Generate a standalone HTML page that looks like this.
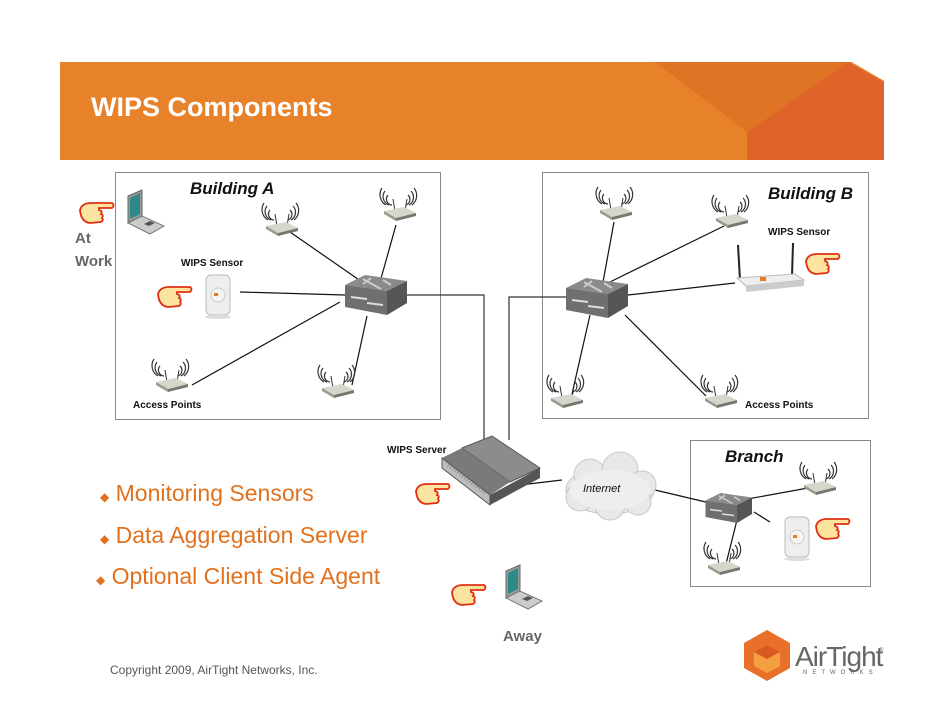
<!DOCTYPE html>
<html><head><meta charset="utf-8"><style>
html,body{margin:0;padding:0;background:#fff;}
svg{display:block;}
text{font-family:"Liberation Sans",sans-serif;}
</style></head><body>
<svg width="942" height="728" viewBox="0 0 942 728" xmlns="http://www.w3.org/2000/svg">
<defs>
<g id="ap">
  <path d="M-6,-8 a6,6 0 0 1 -4,-10 M-9,-8 a9,9 0 0 1 -4,-14 M-12,-8 a12,12 0 0 1 -4,-17" fill="none" stroke="#333" stroke-width="1.2"/>
  <path d="M8,-8 a6,6 0 0 0 2,-10 M11,-8 a9,9 0 0 0 2,-14 M14,-8 a12,12 0 0 0 2,-17" fill="none" stroke="#333" stroke-width="1.2"/>
  <line x1="-5" y1="-14" x2="-3" y2="-2" stroke="#333"/><line x1="9" y1="-14" x2="7" y2="-2" stroke="#333"/>
  <polygon points="-14,-2 6,-6 18,0 -2,5" fill="#d6d6cc"/>
  <polygon points="-14,-2 -2,5 -2,8 -14,1" fill="#9a9a90"/>
  <polygon points="-2,5 18,0 18,3 -2,8" fill="#77776f"/>
</g>
<g id="sw">
  <polygon points="-30,-10 -10,-20 32,-14 12,-4" fill="#8a8a8a"/>
  <polygon points="-30,-10 12,-4 12,20 -30,12" fill="#6f6f6f"/>
  <polygon points="12,-4 32,-14 32,8 12,20" fill="#555"/>
  <path d="M-12,-16 l18,10 M-4,-17 l-8,6 M8,-15 l8,5" stroke="#ccc" stroke-width="2"/>
  <path d="M-24,2 l16,2 M-8,8 l16,2" stroke="#ddd" stroke-width="2"/>
</g>
<g id="hand">
  <path d="M-16,-4 q2,-7 11,-7 l21,0 q3,2 0,5 l-13,0 l0,2 q4,1 2,4 q3,1 1,4 q2,2 -1,4 l-11,1 q-9,-1 -10,-13z" fill="#fbe3a0" stroke="#e03010" stroke-width="1.8"/>
</g>
<g id="laptop">
  <polygon points="0,0 14,-6 14,20 0,27" fill="#999" stroke="#666"/>
  <polygon points="2,2 12,-3 12,18 2,23" fill="#2d8a86"/>
  <polygon points="0,27 14,20 36,30 22,38" fill="#ccc" stroke="#777"/>
  <polygon points="16,28 22,25 27,27 21,30" fill="#555"/>
</g>
<g id="sensor">
  <rect x="-12" y="-20" width="24" height="40" rx="5" fill="#eee" stroke="#bbb"/>
  <circle cx="0" cy="0" r="7" fill="#f4f4f4" stroke="#ccc"/>
  <rect x="-4" y="-2" width="4" height="3" fill="#e87a20"/>
  <ellipse cx="0" cy="22" rx="13" ry="2" fill="#ddd"/>
</g>
</defs>

<!-- header -->
<rect x="60" y="62" width="824" height="98" fill="#E8822A"/>
<polygon points="655,62 848,62 747,132" fill="#E07425"/>
<polygon points="747,132 848,62 884,82 884,160 747,160" fill="#DF6429"/>
<polygon points="848,60 886,60 886,82" fill="#fff"/>
<text x="91" y="116" font-size="27" font-weight="bold" fill="#fff">WIPS Components</text>

<!-- boxes -->
<rect x="115.5" y="172.5" width="325" height="247" fill="none" stroke="#888"/>
<rect x="542.5" y="172.5" width="326" height="246" fill="none" stroke="#888"/>
<rect x="690.5" y="440.5" width="180" height="146" fill="none" stroke="#888"/>

<text x="190" y="194" font-size="17" font-weight="bold" font-style="italic" fill="#111">Building A</text>
<text x="768" y="199" font-size="17" font-weight="bold" font-style="italic" fill="#111">Building B</text>
<text x="725" y="462" font-size="17" font-weight="bold" font-style="italic" fill="#111">Branch</text>

<!-- lines -->
<g stroke="#111" stroke-width="1.2" fill="none">
<line x1="290" y1="232" x2="365" y2="284"/>
<line x1="396" y1="225" x2="380" y2="282"/>
<line x1="240" y1="292" x2="345" y2="295"/>
<line x1="192" y1="385" x2="340" y2="302"/>
<line x1="352" y1="385" x2="367" y2="316"/>
<line x1="614" y1="222" x2="603" y2="282"/>
<line x1="724" y1="226" x2="610" y2="282"/>
<line x1="735" y1="283" x2="628" y2="295"/>
<line x1="590" y1="315" x2="572" y2="394"/>
<line x1="625" y1="315" x2="706" y2="396"/>
<line x1="655" y1="490" x2="710" y2="503"/>
<line x1="742" y1="500" x2="808" y2="488"/>
<line x1="737" y1="520" x2="725" y2="568"/>
<line x1="754" y1="512" x2="770" y2="522"/>
<line x1="520" y1="485" x2="562" y2="480"/>
</g>
<g stroke="#333" stroke-width="1.2" fill="none">
<polyline points="406,295 484,295 484,440"/>
<polyline points="566,297 509,297 509,440"/>
</g>

<!-- switches -->
<use href="#sw" x="375" y="295"/>
<use href="#sw" x="596" y="298"/>
<use href="#sw" x="728" y="508" transform="translate(728,508) scale(0.75) translate(-728,-508)"/>

<!-- APs -->
<use href="#ap" x="280" y="228"/>
<use href="#ap" x="398" y="213"/>
<use href="#ap" x="170" y="384"/>
<use href="#ap" x="336" y="390"/>
<use href="#ap" x="614" y="212"/>
<use href="#ap" x="730" y="220"/>
<use href="#ap" x="565" y="400"/>
<use href="#ap" x="719" y="400"/>
<use href="#ap" x="818" y="487"/>
<use href="#ap" x="722" y="567"/>

<!-- sensors -->
<use href="#sensor" x="218" y="295"/>
<use href="#sensor" x="797" y="537"/>
<g>
  <line x1="738" y1="245" x2="740" y2="280" stroke="#222" stroke-width="2"/>
  <line x1="793" y1="243" x2="792" y2="276" stroke="#222" stroke-width="2"/>
  <polygon points="737,278 795,274 804,280 746,286" fill="#eee" stroke="#bbb"/>
  <polygon points="746,286 804,280 804,286 746,292" fill="#ccc"/>
  <rect x="760" y="277" width="6" height="4" fill="#e87a20"/>
</g>
<text x="181" y="266" font-size="10" font-weight="bold" fill="#111">WIPS Sensor</text>
<text x="768" y="235" font-size="10" font-weight="bold" fill="#111">WIPS Sensor</text>
<text x="133" y="408" font-size="10" font-weight="bold" fill="#111">Access Points</text>
<text x="745" y="408" font-size="10" font-weight="bold" fill="#111">Access Points</text>
<text x="387" y="453" font-size="10" font-weight="bold" fill="#111">WIPS Server</text>

<!-- server -->
<polygon points="462,448 492,436 540,468 510,482" fill="#8c8c8c" stroke="#555"/>
<polygon points="442,458 462,448 510,482 490,495" fill="#7a7a7a"/>
<polygon points="442,458 490,495 490,505 442,468" fill="#bcbcbc" stroke="#555"/>
<polygon points="490,495 540,468 540,478 490,505" fill="#555"/>
<path d="M448,465 l38,29" stroke="#888" stroke-width="3" stroke-dasharray="1,2"/>

<!-- cloud -->
<g fill="#e8e8e8" stroke="#c8c8c8">
<ellipse cx="610" cy="490" rx="44" ry="24"/>
<circle cx="590" cy="475" r="16"/><circle cx="620" cy="470" r="18"/><circle cx="642" cy="485" r="14"/><circle cx="580" cy="497" r="14"/><circle cx="610" cy="505" r="15"/><circle cx="638" cy="502" r="13"/>
</g>
<ellipse cx="610" cy="490" rx="40" ry="20" fill="#eeeeee"/>
<text x="583" y="492" font-size="11" font-style="italic" fill="#111">Internet</text>

<!-- laptops -->
<use href="#laptop" x="128" y="196"/>
<use href="#laptop" x="506" y="571"/>

<!-- hands -->
<use href="#hand" x="96" y="214"/>
<use href="#hand" x="174" y="298"/>
<use href="#hand" x="822" y="265"/>
<use href="#hand" x="432" y="495"/>
<use href="#hand" x="832" y="530"/>
<use href="#hand" x="468" y="596"/>

<text x="75" y="243" font-size="15" font-weight="bold" fill="#666">At</text>
<text x="75" y="266" font-size="15" font-weight="bold" fill="#666">Work</text>
<text x="503" y="641" font-size="15" font-weight="bold" fill="#666">Away</text>

<!-- bullets -->
<g fill="#E2711D" font-size="23">
<text x="100" y="501"><tspan font-size="12">◆</tspan> Monitoring Sensors</text>
<text x="100" y="543"><tspan font-size="12">◆</tspan> Data Aggregation Server</text>
<text x="96" y="584"><tspan font-size="12">◆</tspan> Optional Client Side Agent</text>
</g>
<text x="110" y="674" font-size="12" fill="#555">Copyright 2009, AirTight Networks, Inc.</text>

<!-- logo -->
<polygon points="767,630 790,643 790,668 767,681 744,668 744,643" fill="#E8702A"/>
<polygon points="767,645 780,652 780,666 767,673 754,666 754,652" fill="#f5a040"/>
<polygon points="767,645 780,652 767,659 754,652" fill="#D95a20"/>
<text x="795" y="666" font-size="28" fill="#666" letter-spacing="-1">AirTight</text>
<text x="879" y="652" font-size="6" fill="#666">®</text>
<text x="803" y="674" font-size="6" fill="#666" letter-spacing="5">NETWORKS</text>
</svg>
</body></html>
